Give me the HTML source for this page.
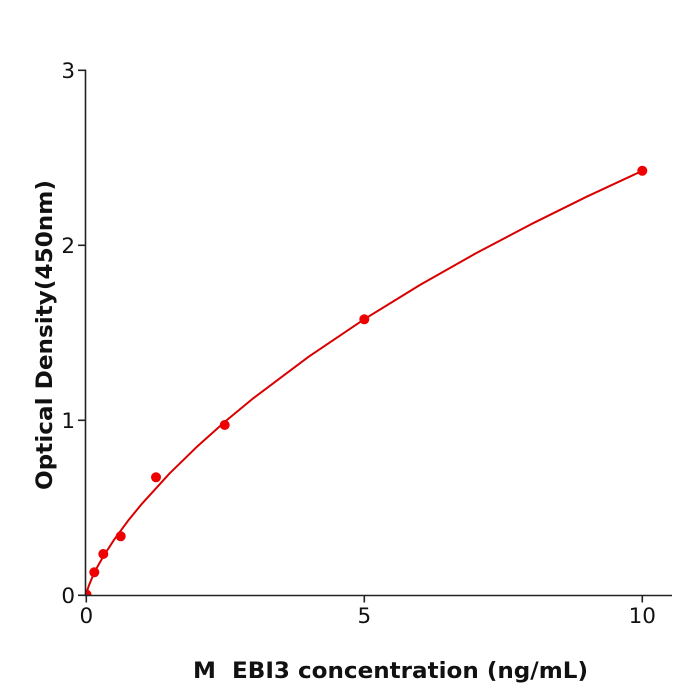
<!DOCTYPE html>
<html><head><meta charset="utf-8"><style>
html,body{margin:0;padding:0;background:#fff;}
svg{display:block;}
text{font-family:"DejaVu Sans","Liberation Sans",sans-serif;fill:#111;}
</style></head><body>
<svg width="700" height="700" viewBox="0 0 700 700" xmlns="http://www.w3.org/2000/svg">
<defs><clipPath id="pa"><rect x="85.5" y="60" width="600" height="535.3"/></clipPath></defs>
<rect width="700" height="700" fill="#fff"/>
<g clip-path="url(#pa)">
<path d="M86.3,595 L87.4,589.9 L89.1,585.0 L91.9,578.2 L97.4,566.8 L103.0,557.0 L114.1,539.7 L128.0,520.8 L141.9,503.8 L169.7,473.3 L197.5,446.2 L225.3,421.4 L253.1,398.4 L308.7,356.7 L364.3,319.2 L419.9,285.0 L475.5,253.5 L531.1,224.2 L586.7,196.7 L642.3,170.8" fill="none" stroke="#d80000" stroke-width="2" stroke-linejoin="round"/>
<g fill="#ee0000">
<circle cx="86.5" cy="594.5" r="5"/>
<circle cx="94.3" cy="572.3" r="5"/>
<circle cx="103.3" cy="554" r="5"/>
<circle cx="120.7" cy="536.3" r="5"/>
<circle cx="156" cy="477.3" r="5"/>
<circle cx="224.7" cy="425" r="5"/>
<circle cx="364.3" cy="319.3" r="5"/>
<circle cx="642.3" cy="170.8" r="5"/>
</g>
</g>
<g stroke="#222" stroke-width="1.6" fill="none">
<line x1="85.5" y1="69.5" x2="85.5" y2="595.5"/>
<line x1="84.7" y1="595.5" x2="672" y2="595.5"/>
<line x1="78" y1="70.3" x2="85.5" y2="70.3"/>
<line x1="78" y1="245.3" x2="85.5" y2="245.3"/>
<line x1="78" y1="420.3" x2="85.5" y2="420.3"/>
<line x1="78" y1="595.3" x2="85.5" y2="595.3"/>
<line x1="86.3" y1="595" x2="86.3" y2="602.5"/>
<line x1="364.3" y1="595" x2="364.3" y2="602.5"/>
<line x1="642.3" y1="595" x2="642.3" y2="602.5"/>
</g>
<g font-size="21.5" text-anchor="end">
<text x="75" y="603">0</text>
<text x="75" y="428">1</text>
<text x="75" y="253">2</text>
<text x="75" y="78">3</text>
</g>
<g font-size="21.5" text-anchor="middle">
<text x="86.3" y="623">0</text>
<text x="364.3" y="623">5</text>
<text x="642.3" y="623">10</text>
</g>
<text x="193" y="678" font-size="22" font-weight="bold" textLength="395" lengthAdjust="spacingAndGlyphs" xml:space="preserve">M  EBI3 concentration (ng/mL)</text>
<text transform="translate(52,490) rotate(-90)" x="0" y="0" font-size="22" font-weight="bold" textLength="310" lengthAdjust="spacingAndGlyphs">Optical Density(450nm)</text>
</svg>
</body></html>
